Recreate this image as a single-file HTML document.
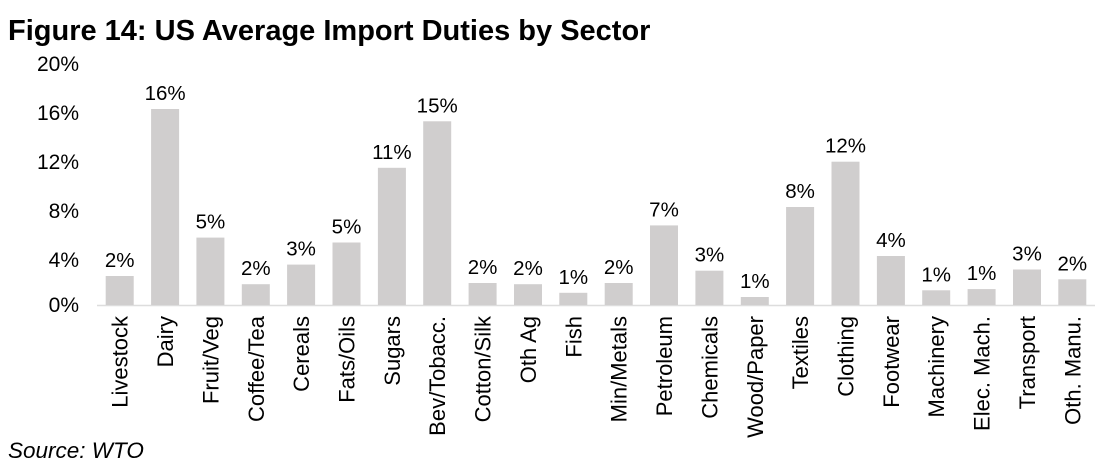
<!DOCTYPE html><html><head><style>body{margin:0;background:#fff}svg{display:block}text{font-family:"Liberation Sans",Arial,sans-serif;fill:#000}</style></head><body>
<svg width="1110" height="476" xmlns="http://www.w3.org/2000/svg">
<text x="8" y="40" font-size="29" font-weight="bold">Figure 14: US Average Import Duties by Sector</text>
<g font-size="21" text-anchor="end">
<text x="79" y="71">20%</text><text x="79" y="120">16%</text><text x="79" y="169">12%</text><text x="79" y="218">8%</text><text x="79" y="267">4%</text><text x="79" y="312">0%</text>
</g>
<line x1="97" y1="305.5" x2="1095" y2="305.5" stroke="#ddd" stroke-width="1.5"/>
<g fill="#d0cece">
<rect x="105.7" y="276" width="28" height="29"/>
<rect x="151.1" y="109" width="28" height="196"/>
<rect x="196.4" y="237.6" width="28" height="67.4"/>
<rect x="241.8" y="284.2" width="28" height="20.8"/>
<rect x="287.1" y="264.6" width="28" height="40.4"/>
<rect x="332.5" y="242.5" width="28" height="62.5"/>
<rect x="377.9" y="167.8" width="28" height="137.2"/>
<rect x="423.2" y="121.3" width="28" height="183.7"/>
<rect x="468.6" y="283" width="28" height="22"/>
<rect x="514" y="284.2" width="28" height="20.8"/>
<rect x="559.3" y="292.8" width="28" height="12.2"/>
<rect x="604.7" y="283" width="28" height="22"/>
<rect x="650" y="225.4" width="28" height="79.6"/>
<rect x="695.4" y="270.7" width="28" height="34.3"/>
<rect x="740.8" y="297" width="28" height="8"/>
<rect x="786.1" y="207" width="28" height="98"/>
<rect x="831.5" y="161.7" width="28" height="143.3"/>
<rect x="876.9" y="256" width="28" height="49"/>
<rect x="922.2" y="290.3" width="28" height="14.7"/>
<rect x="967.6" y="289.1" width="28" height="15.9"/>
<rect x="1013" y="269.5" width="28" height="35.5"/>
<rect x="1058.3" y="279.3" width="28" height="25.7"/>
</g>
<g font-size="20.5" text-anchor="middle">
<text x="119.7" y="267">2%</text>
<text x="165.1" y="100">16%</text>
<text x="210.4" y="228.6">5%</text>
<text x="255.8" y="275.2">2%</text>
<text x="301.1" y="255.6">3%</text>
<text x="346.5" y="233.5">5%</text>
<text x="391.9" y="158.8">11%</text>
<text x="437.2" y="112.3">15%</text>
<text x="482.6" y="274">2%</text>
<text x="528" y="275.2">2%</text>
<text x="573.3" y="283.8">1%</text>
<text x="618.7" y="274">2%</text>
<text x="664" y="216.4">7%</text>
<text x="709.4" y="261.7">3%</text>
<text x="754.8" y="288">1%</text>
<text x="800.1" y="198">8%</text>
<text x="845.5" y="152.7">12%</text>
<text x="890.9" y="247">4%</text>
<text x="936.2" y="281.3">1%</text>
<text x="981.6" y="280.1">1%</text>
<text x="1027" y="260.5">3%</text>
<text x="1072.3" y="270.3">2%</text>
</g>
<g font-size="22" text-anchor="end">
<text transform="translate(127.7,316) rotate(-90)">Livestock</text>
<text transform="translate(173.1,316) rotate(-90)">Dairy</text>
<text transform="translate(218.4,316) rotate(-90)">Fruit/Veg</text>
<text transform="translate(263.8,316) rotate(-90)">Coffee/Tea</text>
<text transform="translate(309.1,316) rotate(-90)">Cereals</text>
<text transform="translate(354.5,316) rotate(-90)">Fats/Oils</text>
<text transform="translate(399.9,316) rotate(-90)">Sugars</text>
<text transform="translate(445.2,316) rotate(-90)">Bev/Tobacc.</text>
<text transform="translate(490.6,316) rotate(-90)">Cotton/Silk</text>
<text transform="translate(536,316) rotate(-90)">Oth Ag</text>
<text transform="translate(581.3,316) rotate(-90)">Fish</text>
<text transform="translate(626.7,316) rotate(-90)">Min/Metals</text>
<text transform="translate(672,316) rotate(-90)">Petroleum</text>
<text transform="translate(717.4,316) rotate(-90)">Chemicals</text>
<text transform="translate(762.8,316) rotate(-90)">Wood/Paper</text>
<text transform="translate(808.1,316) rotate(-90)">Textiles</text>
<text transform="translate(853.5,316) rotate(-90)">Clothing</text>
<text transform="translate(898.9,316) rotate(-90)">Footwear</text>
<text transform="translate(944.2,316) rotate(-90)">Machinery</text>
<text transform="translate(989.6,316) rotate(-90)">Elec. Mach.</text>
<text transform="translate(1035,316) rotate(-90)">Transport</text>
<text transform="translate(1080.3,316) rotate(-90)">Oth. Manu.</text>
</g>
<text x="8" y="458" font-size="22.5" font-style="italic">Source: WTO</text>
</svg></body></html>
